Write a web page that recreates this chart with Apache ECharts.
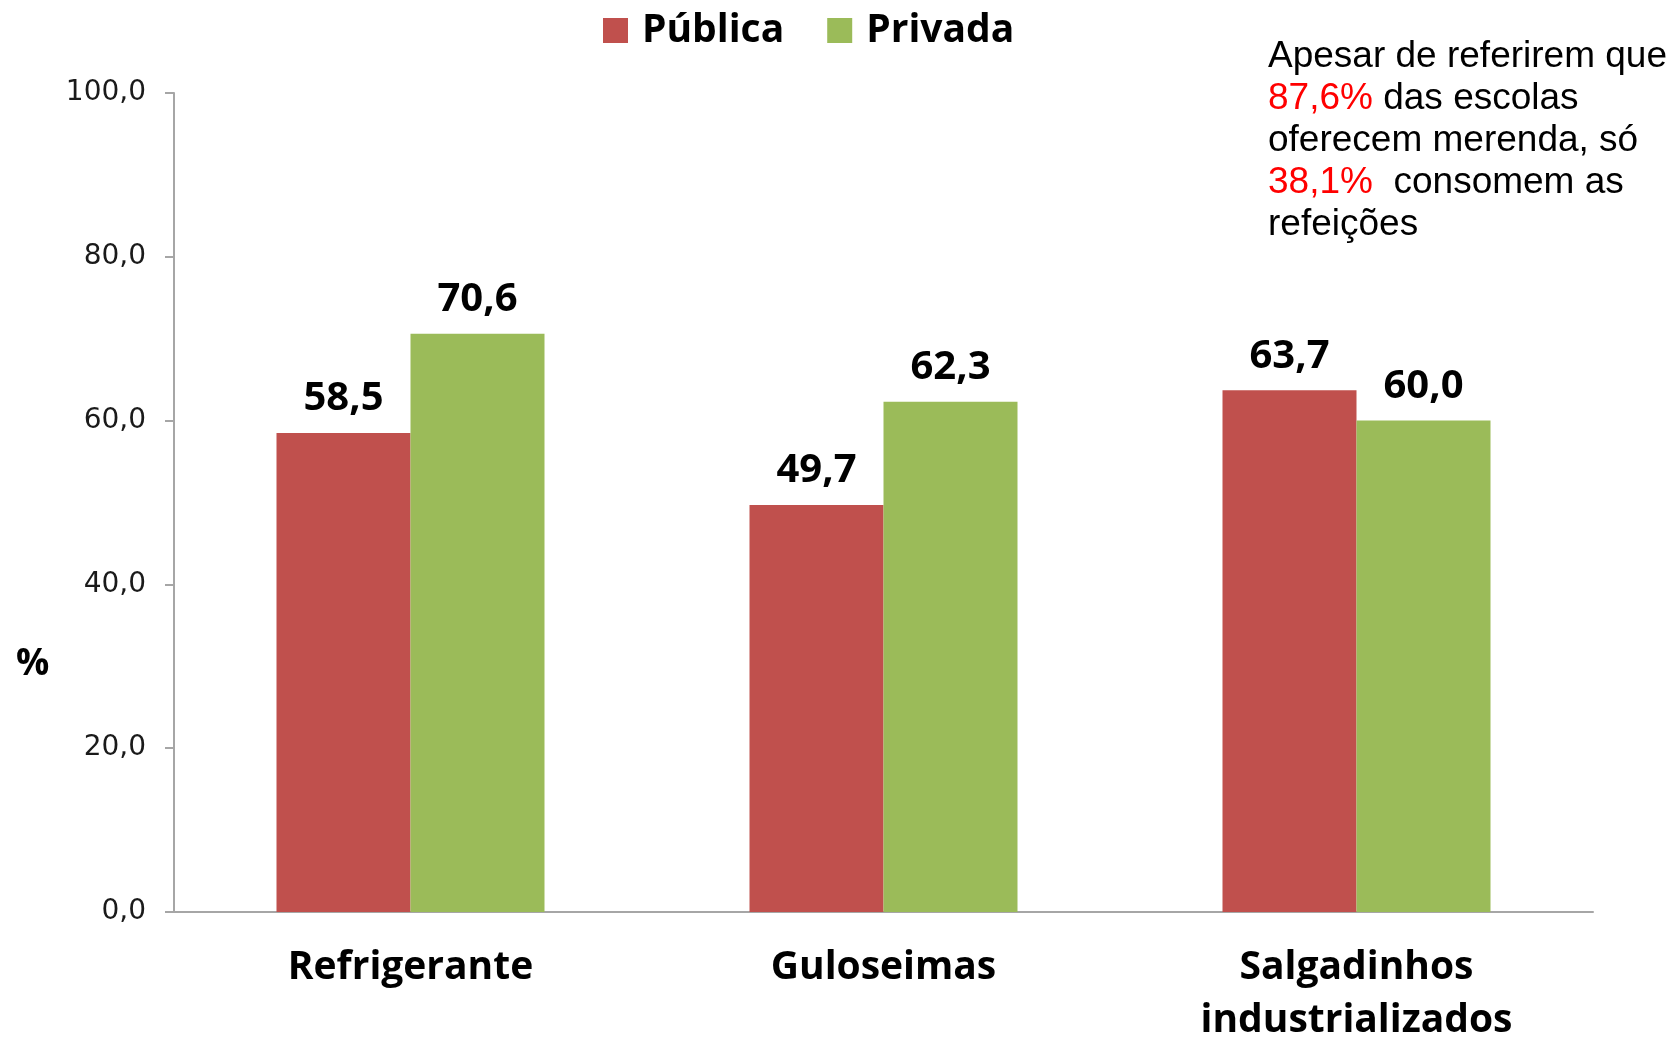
<!DOCTYPE html>
<html lang="pt-BR">
<head>
    <meta charset="UTF-8">
    <title>Consumo nas escolas</title>
    <script src="https://cdn.jsdelivr.net/npm/echarts@6/dist/echarts.min.js"></script>
    <style>
        html, body { margin: 0; padding: 0; background: #fff; }
        #chart { width: 1675px; height: 1037px; }
    </style>
</head>
<body>
<div id="chart"></div>
<script type="text/javascript">
    // dados
    var categorias = ['Refrigerante', 'Guloseimas', 'Salgadinhos\nindustrializados'];
    var publica = [58.5, 49.7, 63.7];
    var privada = [70.6, 62.3, 60.0];
    var nomesSeries = ['Pública', 'Privada'];

    var fmt = function (v) {
        return Number(v).toFixed(1).replace('.', ',');
    };
    var fonteNegrito = '"Open Sans", "DejaVu Sans", sans-serif';

    var myChart = echarts.init(document.getElementById('chart'));
    var option = {
        backgroundColor: '#ffffff',
        animation: false,
        title: {
            left: 1268,
            top: 36,
            padding: 0,
            text: 'Apesar de referirem que\n{r|87,6%} das escolas\noferecem merenda, só\n{r|38,1%}  consomem as\nrefeições',
            textStyle: {
                fontFamily: '"Liberation Sans", Arial, sans-serif',
                fontSize: 37,
                fontWeight: 'normal',
                color: '#000',
                lineHeight: 42,
                rich: {
                    r: {
                        color: '#ff0000',
                        fontFamily: '"Liberation Sans", Arial, sans-serif',
                        fontSize: 37,
                        lineHeight: 42
                    }
                }
            }
        },
        legend: {
            left: 598,
            top: 6,
            itemWidth: 25,
            itemHeight: 25,
            itemGap: 43,
            icon: 'rect',
            data: nomesSeries,
            textStyle: {
                fontFamily: fonteNegrito,
                fontWeight: 'bold',
                fontSize: 39,
                color: '#000',
                padding: [0, 0, 0, 9]
            }
        },
        grid: {
            left: 174,
            right: 82,
            top: 93,
            bottom: 125,
            outerBoundsMode: 'none'
        },
        // o "%" fica abaixo do meio do eixo, como no original
        graphic: [{
            type: 'text',
            left: 16,
            top: 646,
            style: {
                text: '%',
                fill: '#000',
                font: 'bold 37px "Open Sans", sans-serif'
            }
        }],
        xAxis: {
            type: 'category',
            data: categorias,
            axisTick: {show: false},
            axisLine: {lineStyle: {color: '#a6a6a6', width: 2}},
            axisLabel: {
                margin: 29,
                fontFamily: fonteNegrito,
                fontWeight: 'bold',
                fontSize: 39,
                lineHeight: 53,
                color: '#000'
            }
        },
        yAxis: {
            type: 'value',
            min: 0,
            max: 100,
            interval: 20,
            axisLine: {show: true, lineStyle: {color: '#a6a6a6', width: 2}},
            axisTick: {show: true, length: 9, lineStyle: {color: '#a6a6a6', width: 2}},
            splitLine: {show: false},
            axisLabel: {
                margin: 28,
                formatter: fmt,
                fontFamily: '"DejaVu Sans", sans-serif',
                fontSize: 28,
                color: '#1a1a1a'
            }
        },
        series: [
            {
                name: nomesSeries[0],
                type: 'bar',
                data: publica,
                barWidth: 134,
                barGap: '0%',
                itemStyle: {color: '#c0504d'},
                label: {
                    show: true,
                    position: 'top',
                    distance: 14,
                    formatter: function (p) { return fmt(p.value); },
                    fontFamily: fonteNegrito,
                    fontWeight: 'bold',
                    fontSize: 40,
                    color: '#000'
                }
            },
            {
                name: nomesSeries[1],
                type: 'bar',
                data: privada,
                barWidth: 134,
                barGap: '0%',
                itemStyle: {color: '#9bbb59'},
                label: {
                    show: true,
                    position: 'top',
                    distance: 14,
                    formatter: function (p) { return fmt(p.value); },
                    fontFamily: fonteNegrito,
                    fontWeight: 'bold',
                    fontSize: 40,
                    color: '#000'
                }
            }
        ]
    };
    myChart.setOption(option);
</script>
</body>
</html>
